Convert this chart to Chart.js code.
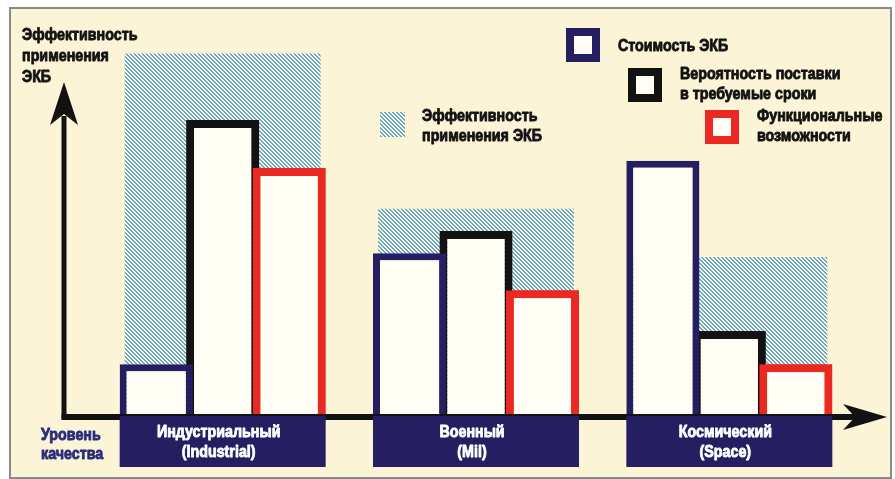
<!DOCTYPE html>
<html>
<head>
<meta charset="utf-8">
<script src="https://cdn.jsdelivr.net/npm/chart.js@4.4.1/dist/chart.umd.min.js"></script>
<style>
  html, body { margin: 0; padding: 0; background: #ffffff; }
  canvas { display: block; }
</style>
</head>
<body>
<canvas id="chart" width="895" height="479"></canvas>
<script>
// quality levels (two-line captions under the groups)
const categories = [['Индустриальный', '(Industrial)'], ['Военный', '(Mil)'], ['Космический', '(Space)']];

// series values, 0..100 relative scale
const efficiency = [98, 56, 43];
const cost = [14, 44, 69];
const delivery = [80, 50, 23];
const functionality = [67, 34, 14];

const seriesNames = ['Стоимость ЭКБ', 'Вероятность поставки\nв требуемые сроки', 'Функциональные\nвозможности', 'Эффективность\nприменения ЭКБ'];
const yTitle = ['Эффективность', 'применения', 'ЭКБ'];
const xTitle = ['Уровень', 'качества'];

const NAVY = '#251f62';
const BLACK = '#121212';
const RED = '#ec2823';
const FILL = '#fffdf4';
const PAPER = '#fcf4d7';
const FONT = 'bold 17px "Liberation Sans", Arial, sans-serif';
const NARROW = 0.84;   // squeeze text horizontally to a condensed look

const ctx = document.getElementById('chart').getContext('2d');

function makeHatch() {
  const c = document.createElement('canvas');
  c.width = 4; c.height = 4;
  const g = c.getContext('2d');
  g.fillStyle = '#fcf7e2';
  g.fillRect(0, 0, 4, 4);
  g.fillStyle = '#68a8c4';
  for (let i = 0; i < 4; i++) {
    g.fillRect(i, i, 1, 1);
    g.fillRect((i + 1) % 4, i, 1, 1);
  }
  return ctx.createPattern(c, 'repeat');
}
const hatch = makeHatch();

function arrow(g, tx, ty, dx, dy, len, half, notch) {
  // dx,dy: unit direction the arrow points to
  const px = -dy, py = dx;
  const bx = tx - dx * len, by = ty - dy * len;
  g.beginPath();
  g.moveTo(tx, ty);
  g.lineTo(bx + px * half, by + py * half);
  g.lineTo(tx - dx * (len - notch), ty - dy * (len - notch));
  g.lineTo(bx - px * half, by - py * half);
  g.closePath();
  g.fill();
}

function lines(g, text, x, y, step, align) {
  text.forEach((t, i) => {
    g.save();
    g.translate(x, y + i * step);
    g.scale(NARROW, 1);
    g.textAlign = align || 'left';
    g.strokeStyle = g.fillStyle;
    g.lineWidth = 0.9;
    g.lineJoin = 'round';
    g.fillText(t, 0, 0);
    g.strokeText(t, 0, 0);
    g.restore();
  });
}

const decor = {
  id: 'decor',
  beforeDraw(chart) {
    const g = chart.ctx;
    g.save();
    g.fillStyle = '#ffffff';
    g.fillRect(0, 0, chart.width, chart.height);
    g.fillStyle = PAPER;
    g.fillRect(10, 8, 881, 470);
    g.strokeStyle = '#8a8a8a';
    g.lineWidth = 2;
    g.strokeRect(10, 8, 881, 470);
    g.restore();
  },
  afterDatasetsDraw(chart) {
    const g = chart.ctx;
    const area = chart.chartArea;
    // red bars sit on top of the black ones
    chart.getDatasetMeta(2).controller.draw();

    const base = chart.scales.y.getPixelForValue(0);
    const ax = area.left - 32;
    g.save();
    // axes
    g.fillStyle = BLACK;
    g.strokeStyle = BLACK;
    g.lineWidth = 5;
    g.beginPath();
    g.moveTo(ax, base + 3);
    g.lineTo(ax, area.top + 70);
    g.stroke();
    g.lineWidth = 6;
    g.beginPath();
    g.moveTo(ax - 2.5, base + 1);
    g.lineTo(area.right, base + 1);
    g.stroke();
    arrow(g, ax, area.top + 36, 0, -1, 43, 14, 11);
    arrow(g, area.right + 31, base + 1, 1, 0, 44, 13, 12);

    // category boxes under each group
    const first = chart.getDatasetMeta(0).data;
    const last = chart.getDatasetMeta(2).data;
    g.textBaseline = 'alphabetic';
    g.font = FONT;
    chart.data.labels.forEach((lab, i) => {
      const l = first[i].x - first[i].width / 2;
      const r = last[i].x + last[i].width / 2;
      g.fillStyle = NAVY;
      g.fillRect(l, base, r - l, 51);
      g.fillStyle = '#ffffff';
      lines(g, lab, (l + r) / 2 - 4, base + 21, 20, 'center');
    });

    // axis titles
    g.fillStyle = BLACK;
    lines(g, yTitle, 22, 40, 21);
    g.fillStyle = '#2a2d7a';
    lines(g, xTitle, 41, 440, 19);

    // legend
    const ds = chart.data.datasets;
    const keys = [
      { i: 0, x: 566, y: 28 },
      { i: 1, x: 628, y: 68 },
      { i: 2, x: 705, y: 110 }
    ];
    keys.forEach(k => {
      const d = ds[k.i];
      g.fillStyle = d.borderColor;
      g.fillRect(k.x, k.y, 34, 34);
      g.fillStyle = FILL;
      g.fillRect(k.x + 8, k.y + 8, 18, 18);
      g.fillStyle = BLACK;
      const txt = d.label.split('\n');
      const ty = txt.length === 1 ? k.y + 23 : k.y + 11;
      lines(g, txt, k.x + 52, ty, 20);
    });
    g.fillStyle = hatch;
    g.fillRect(380, 112, 25, 25);
    g.fillStyle = BLACK;
    lines(g, ds[3].label.split('\n'), 422, 121, 20);
    g.restore();
  }
};

new Chart(ctx, {
  type: 'bar',
  data: {
    labels: categories,
    datasets: [
      { label: seriesNames[0], data: cost, borderColor: NAVY, borderWidth: 7 },
      { label: seriesNames[1], data: delivery, borderColor: BLACK, borderWidth: 8 },
      { label: seriesNames[2], data: functionality, borderColor: RED, borderWidth: 8 },
      { label: seriesNames[3], data: efficiency, backgroundColor: hatch, borderWidth: 0,
        grouped: false, categoryPercentage: 0.773, barPercentage: 1 }
    ]
  },
  options: {
    responsive: false,
    animation: false,
    devicePixelRatio: 1,
    layout: { padding: { left: 96, right: 39, top: 46, bottom: 63 } },
    datasets: {
      bar: { backgroundColor: FILL, categoryPercentage: 0.787, barPercentage: 1.1, borderSkipped: 'start' }
    },
    scales: {
      x: { display: false, offset: true },
      y: { display: false, min: 0, max: 100 }
    },
    plugins: { legend: { display: false }, tooltip: { enabled: false } }
  },
  plugins: [decor]
});
</script>
</body>
</html>
